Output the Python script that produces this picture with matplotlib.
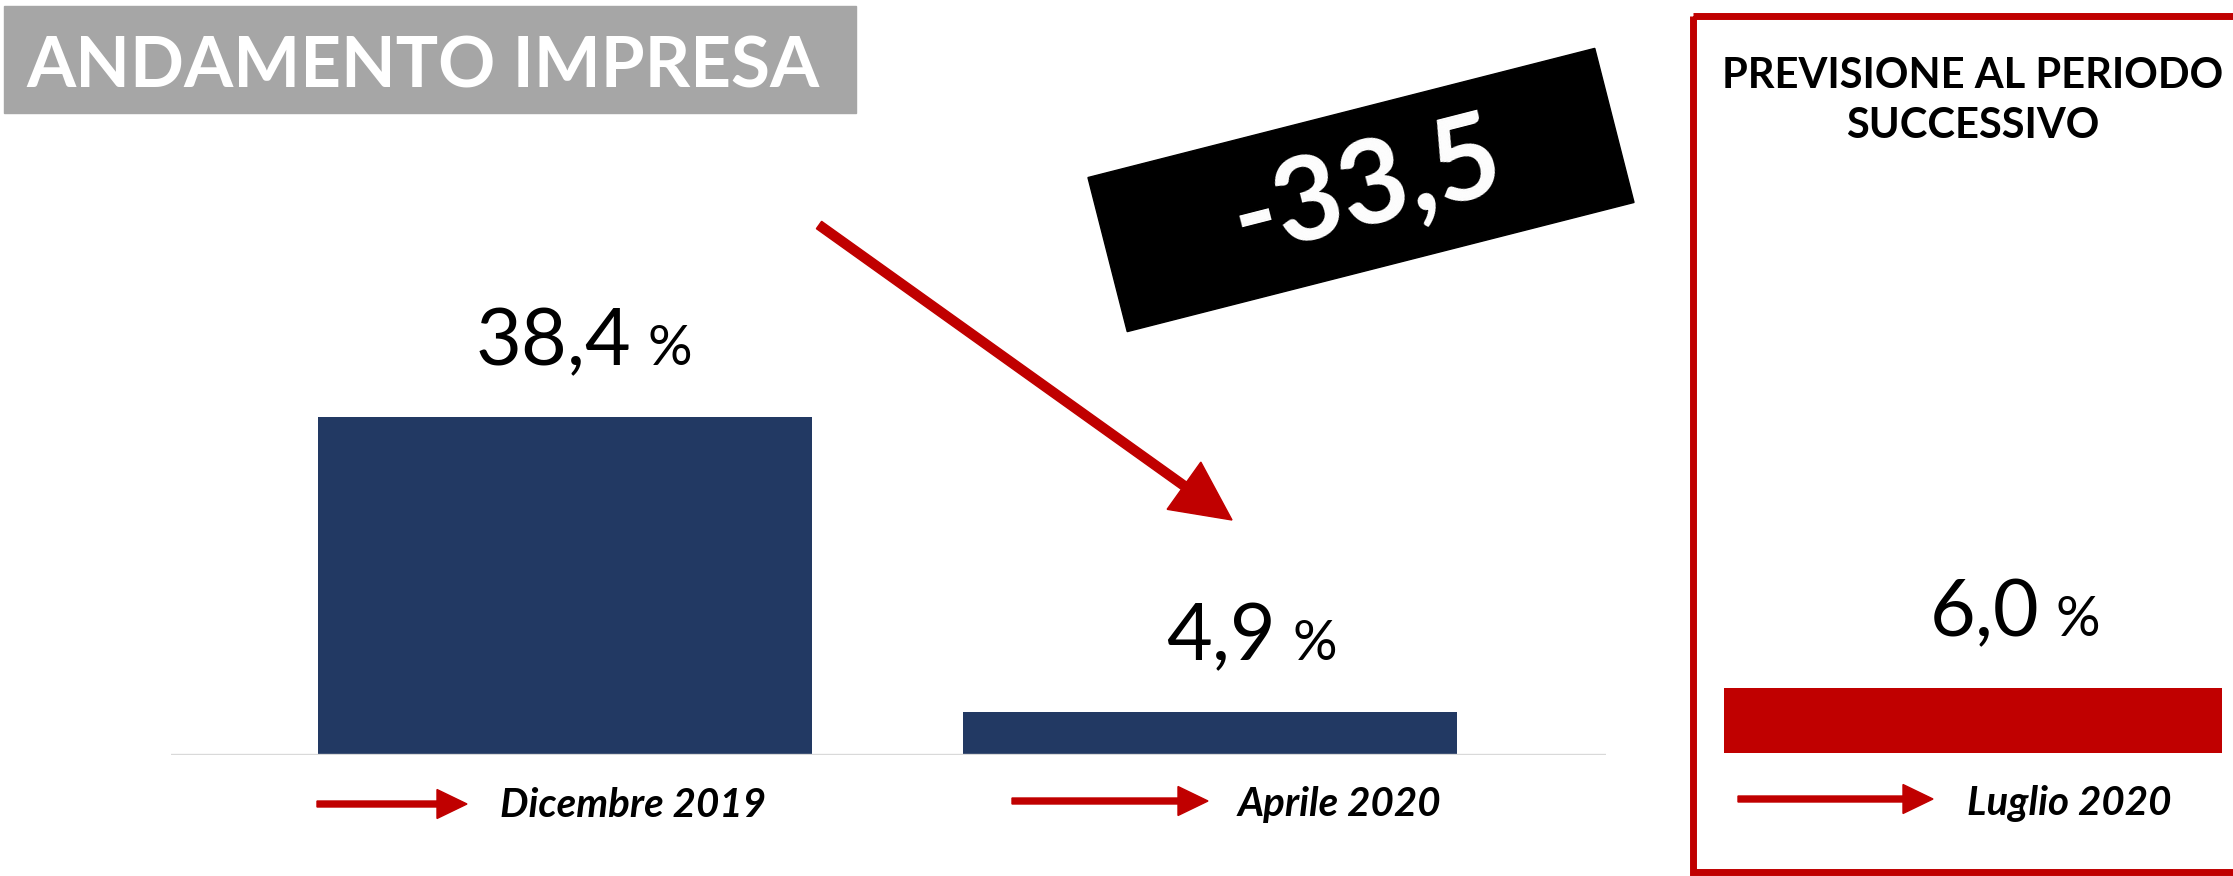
import matplotlib
matplotlib.use('Agg')
import matplotlib.pyplot as plt
from matplotlib.patches import Rectangle, FancyArrow

# dati
periodi = ['Dicembre 2019', 'Aprile 2020']
valori = [38.4, 4.9]
periodo_prev = 'Luglio 2020'
valore_prev = 6.0
variazione = -33.5

titolo = 'ANDAMENTO IMPRESA'
titolo_prev = 'PREVISIONE AL PERIODO\nSUCCESSIVO'

blu = '#223963'
rosso = '#C00000'
grigio = '#A6A6A6'

W, H = 2233, 876
fig = plt.figure(figsize=(W / 100, H / 100), dpi=100)


def fmt(v):
    return f'{v:.1f}'.replace('.', ',')


def etichetta(ax, x, v):
    # numero grande + simbolo % piccolo sopra la barra
    ax.annotate(fmt(v), xy=(x, v), xytext=(66, 52), textcoords='offset pixels',
                ha='right', va='baseline', fontsize=57, family='Lato',
                fontweight='normal', color='black')
    ax.annotate('%', xy=(x, v), xytext=(82, 52), textcoords='offset pixels',
                ha='left', va='baseline', fontsize=40, family='Lato',
                fontweight='normal', color='black')


# grafico principale
ax = fig.add_axes([171 / W, 121 / H, 1435 / W, 755 / H])
x = list(range(len(periodi)))
ax.bar(x, valori, width=0.767, color=blu, zorder=2)
ax.axhline(0, color='#D9D9D9', lw=2.4, zorder=3)
ax.set_xlim(-0.611, 1.614)
ax.set_ylim(0, 85.8)
ax.axis('off')
for xi, v in zip(x, valori):
    etichetta(ax, xi, v)

# previsione
ax2 = fig.add_axes([1724 / W, 123 / H, 498 / W, 753 / H])
ax2.bar([0], [valore_prev], width=1, color=rosso)
ax2.set_xlim(-0.5, 0.5)
ax2.set_ylim(0, 69.5)
ax2.axis('off')
etichetta(ax2, 0, valore_prev)

# livello decorativo in pixel (y dall'alto)
ov = fig.add_axes([0, 0, 1, 1])
ov.set_xlim(0, W)
ov.set_ylim(H, 0)
ov.axis('off')
ov.patch.set_visible(False)

ov.add_patch(Rectangle((4, 6), 852, 107, color=grigio))
ov.text(26, 88, titolo, color='white', fontsize=51, family='Lato',
        fontweight='bold', ha='left', va='baseline')

# riquadro rosso previsione
ov.add_patch(Rectangle((1693, 16), 600, 856, fill=False, edgecolor=rosso, lw=5))
ov.text(1973, 88, titolo_prev.split('\n')[0], fontsize=30, family='Lato',
        fontweight='bold', ha='center', va='baseline')
ov.text(1973, 138, titolo_prev.split('\n')[1], fontsize=30, family='Lato',
        fontweight='bold', ha='center', va='baseline')

# freccia grande e riquadro nero con la variazione
ov.add_patch(FancyArrow(819, 225, 1232 - 819, 520 - 225, width=9, head_width=58,
                        head_length=59, length_includes_head=True, color=rosso))
ov.add_patch(Rectangle((1361 - 261.5, 190 - 79.5), 523, 159, angle=-14.3,
                       rotation_point='center', color='black'))
ov.text(1367, 188, fmt(variazione), color='white', fontsize=84, family='Lato',
        fontweight='bold', rotation=14.3, ha='center', va='center')

# etichette dei periodi con frecce
freccette = [(317, 467, 804, 500, 817), (1012, 1208, 801, 1238, 816),
             (1738, 1933, 799, 1967, 815)]
for nome, (x0, x1, y, tx, ty) in zip(periodi + [periodo_prev], freccette):
    ov.add_patch(FancyArrow(x0, y, x1 - x0, 0, width=6, head_width=29,
                            head_length=30, length_includes_head=True, color=rosso))
    ov.text(tx, ty, nome, fontsize=29, family='Lato', fontweight='bold',
            style='italic', ha='left', va='baseline')

fig.savefig('out.png', dpi=100)
